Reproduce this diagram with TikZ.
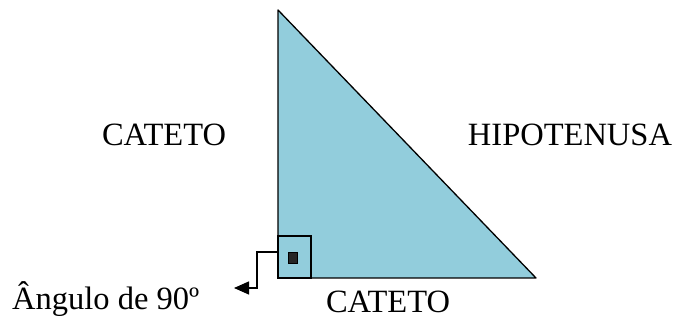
\documentclass[tikz,border=0pt]{standalone}
\usepackage{fontspec}
\setmainfont{Liberation Serif}
\usetikzlibrary{arrows.meta}
\definecolor{tri}{RGB}{146,205,220}

\begin{document}
\begin{tikzpicture}[x=1pt,y=-1pt,
  lbl/.style={font=\fontsize{32.5}{38}\selectfont, inner sep=0pt}]
\useasboundingbox (0,0) rectangle (675,320);
\coordinate (top) at (278,10);
\coordinate (recto) at (278,278);
\coordinate (dir) at (536,278);
\draw[fill=tri, line width=1.3pt, line join=round] (top) -- (recto) -- (dir) -- cycle;
\draw[line width=1.3pt] (278,236) rectangle (311,278);
\node[draw, fill=black!85, line width=0.6pt, minimum width=9pt, minimum height=11pt, inner sep=0pt] (marca) at (292.5,257.5) {};
\coordinate (sai) at (278,252);
\coordinate (ponta) at (234,288);
\draw[line width=1.3pt, -{Triangle[length=15pt,width=13pt]}] (sai) -- (257,252) -- (257,288) -- (ponta);
\node[lbl] (cat1) at (164,135) {CATETO};
\node[lbl] (hip) at (570,135) {HIPOTENUSA};
\node[lbl, anchor=base] (cat2) at (388,313) {CATETO};
\node[lbl, anchor=base west] (ang) at (12,310) {Ângulo de 90º};
\end{tikzpicture}
\end{document}
